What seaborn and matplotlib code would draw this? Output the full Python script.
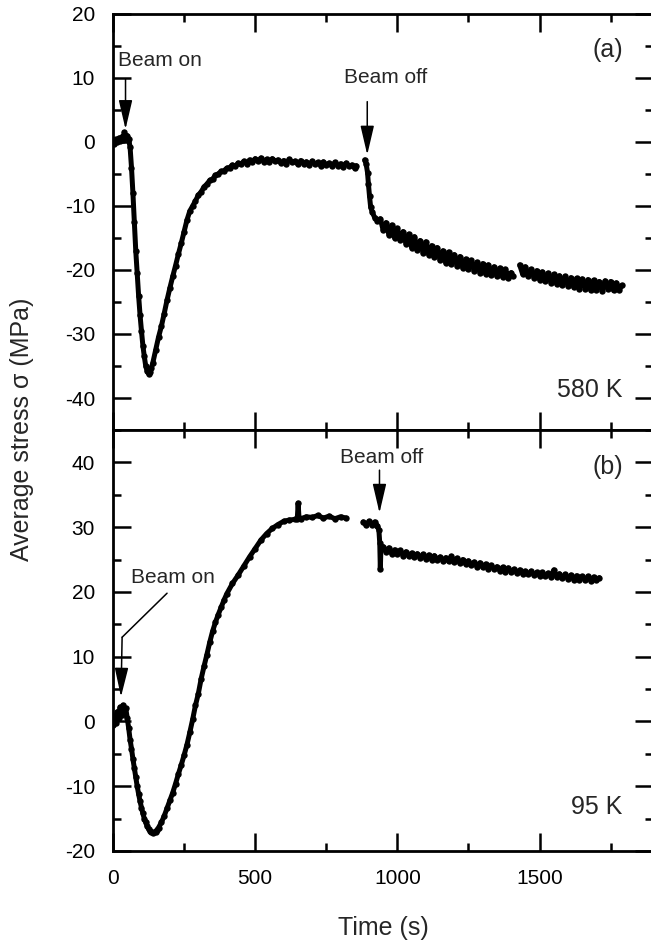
import numpy as np
import pandas as pd
import matplotlib
matplotlib.use("Agg")
import matplotlib.pyplot as plt
import seaborn as sns
from matplotlib.ticker import MultipleLocator

# ---------------- data ----------------
# Panel (a): 580 K
t_a = [
    0, 5, 10, 15, 20, 25, 30, 35, 40, 45, 50, 55, 60,
    65, 70, 75, 80, 85, 90, 95, 100, 105, 110, 115, 120, 125, 130, 135, 140,
    150, 160, 170, 180, 190, 200, 210, 220, 230, 240, 250, 260, 270, 280, 290, 300,
    310, 320, 330, 340, 350, 360, 370, 380, 390, 400,
    410, 420, 430, 440, 450, 460, 470, 480, 490, 500,
    510, 520, 530, 540, 550, 560, 570, 580, 590, 600,
    610, 620, 630, 640, 650, 660, 670, 680, 690, 700,
    710, 720, 730, 740, 750, 760, 770, 780, 790, 800,
    810, 820, 830, 840, 850, 855,
    870,
    885, 890, 895, 898, 902, 906, 912, 920, 930,
    940, 950, 960, 970, 980, 990, 1000, 1010, 1020, 1030,
    1040, 1050, 1060, 1070, 1080, 1090, 1100, 1110, 1120, 1130,
    1140, 1150, 1160, 1170, 1180, 1190, 1200, 1210, 1220, 1230,
    1240, 1250, 1260, 1270, 1280, 1290, 1300, 1310, 1320, 1330,
    1340, 1350, 1360, 1370, 1380, 1390, 1400, 1405,
    1418,
    1430, 1440, 1450, 1460, 1470, 1480, 1490, 1500, 1510, 1520,
    1530, 1540, 1550, 1560, 1570, 1580, 1590, 1600, 1610, 1620,
    1630, 1640, 1650, 1660, 1670, 1680, 1690, 1700, 1710, 1720,
    1730, 1740, 1750, 1760, 1770, 1780, 1790,
]
s_a = [
    0.3, -0.3, 0.4, 0.0, 0.6, 0.1, 0.8, 0.3, 1.5, 0.6, 1.0, 0.4, -0.8,
    -4.0, -8.0, -12.5, -17.0, -20.5, -24.0, -27.0, -29.5, -31.8, -33.5, -35.0, -35.8, -36.2, -36.0, -35.3, -34.5,
    -32.5, -30.5, -28.8, -26.8, -24.7, -22.8, -21.0, -19.3, -17.5, -15.8, -14.0, -12.2, -10.8, -10.0, -9.2, -8.3,
    -7.8, -7.0, -6.6, -6.0, -5.8, -5.2, -5.0, -4.6, -4.5, -4.1,
    -4.0, -3.6, -3.8, -3.3, -3.5, -3.0, -3.4, -2.8, -3.2, -2.6,
    -3.0, -2.5, -3.1, -2.7, -3.2, -2.6, -3.0, -2.8, -3.3, -2.9,
    -3.4, -2.7, -3.2, -3.0, -3.5, -2.9, -3.4, -3.1, -3.6, -3.0,
    -3.5, -3.2, -3.7, -3.1, -3.6, -3.3, -3.8, -3.2, -3.7, -3.4,
    -3.9, -3.3, -3.8, -3.6, -4.1, -3.7,
    np.nan,
    -2.8, -3.4, -4.8, -6.5, -8.5, -10.2, -11.0, -11.8, -12.3,
    -12.0, -13.8, -12.6, -14.5, -13.0, -15.0, -13.5, -15.3, -14.0, -15.9,
    -14.4, -16.5, -14.8, -16.8, -15.4, -17.3, -15.6, -17.6, -16.2, -18.0,
    -16.5, -18.5, -17.0, -18.9, -17.2, -19.1, -17.6, -19.4, -17.9, -19.7,
    -18.3, -19.9, -18.5, -20.2, -18.8, -20.4, -19.0, -20.6, -19.2, -20.8,
    -19.5, -21.0, -19.7, -21.1, -19.9, -21.2, -20.4, -21.0,
    np.nan,
    -19.2, -20.6, -19.5, -21.0, -19.9, -21.2, -20.1, -21.5, -20.3, -21.7,
    -20.5, -22.0, -20.7, -22.2, -20.9, -22.3, -21.0, -22.5, -21.2, -22.7,
    -21.3, -23.0, -21.4, -22.9, -21.5, -23.2, -21.6, -23.1, -21.8, -23.3,
    -21.7, -23.0, -21.8, -23.2, -22.0, -23.1, -22.4,
]

# Panel (b): 95 K
t_b = [
    0, 5, 10, 15, 20, 25, 30, 35, 40, 45,
    50, 55, 60, 65, 70, 75, 80, 85, 90, 95, 100, 105, 110, 115, 120, 125, 130,
    135, 140, 145, 150, 155, 160,
    170, 180, 190, 200, 210, 220, 230, 240, 250, 260, 270, 280,
    290, 300, 310, 320, 330, 340, 350, 360, 370, 380, 390, 400,
    420, 440, 460, 480, 500, 520, 540, 560, 580, 600, 620, 640,
    648, 651, 654,
    660, 680, 700, 720, 740, 760, 780, 800, 820,
    850,
    880, 890, 900, 910, 920, 930, 935, 938, 940, 942,
    950, 960, 970, 980, 990, 1000, 1010, 1020, 1030, 1040,
    1050, 1060, 1070, 1080, 1090, 1100, 1110, 1120, 1130, 1140,
    1150, 1160, 1170, 1180, 1190, 1200, 1210, 1220, 1230, 1240,
    1250, 1260, 1270, 1280, 1290, 1300, 1310, 1320, 1330, 1340,
    1350, 1360, 1370, 1380, 1390, 1400, 1410, 1420, 1430, 1440,
    1450, 1460, 1470, 1480, 1490, 1500, 1510, 1520, 1530, 1540,
    1550, 1560, 1570, 1580, 1590, 1600, 1610, 1620, 1630, 1640,
    1650, 1660, 1670, 1680, 1690, 1700, 1710,
]
s_b = [
    -0.5, 0.8, -0.2, 1.5, 0.5, 2.2, 1.0, 2.5, 1.5, 2.0,
    0.5, -1.0, -2.8, -4.2, -5.8, -7.2, -8.6, -10.0, -11.2, -12.3, -13.3, -14.2, -15.0, -15.6, -16.2, -16.6, -16.9,
    -17.1, -17.2, -17.1, -17.0, -16.7, -16.4,
    -15.6, -14.6, -13.4, -12.2, -11.0, -9.6, -8.1, -6.7, -5.2, -3.6, -1.7, 0.3,
    2.5, 4.3, 6.6, 8.5, 10.3, 12.2, 13.9, 15.3, 16.5, 17.6, 18.7, 19.7,
    21.3, 22.6, 24.0, 25.4, 26.7, 28.0, 29.0, 29.8, 30.4, 30.9, 31.1, 31.2,
    31.3, 33.7, 31.4,
    31.3, 31.6, 31.5, 31.8, 31.4, 31.7, 31.3, 31.6, 31.4,
    np.nan,
    30.8, 30.3, 30.9, 30.4, 30.8, 30.2, 29.5, 27.5, 23.5, 26.8,
    27.0, 26.2, 26.8, 25.9, 26.5, 25.8, 26.4, 25.6, 26.2, 25.5,
    26.0, 25.4, 25.9, 25.2, 25.8, 25.1, 25.7, 25.0, 25.6, 24.9,
    25.4, 24.8, 25.3, 24.7, 25.5, 24.6, 25.2, 24.4, 25.0, 24.3,
    24.8, 24.1, 24.6, 23.9, 24.5, 23.8, 24.3, 23.6, 24.1, 23.5,
    23.9, 23.3, 23.8, 23.1, 23.7, 23.0, 23.5, 22.9, 23.4, 22.8,
    23.2, 22.7, 23.2, 22.6, 23.0, 22.5, 23.0, 22.4, 22.9, 22.3,
    23.4, 22.3, 22.8, 22.1, 22.7, 22.0, 22.6, 21.9, 22.5, 21.9,
    22.4, 21.8, 22.4, 21.7, 22.3, 21.8, 22.2,
]

x_ticks = [0, 500, 1000, 1500]
ylim_a = (-45, 20)
ylim_b = (-20, 45)
panel_labels = ["(a)", "(b)"]
temp_labels = ["580 K", "95 K"]

assert len(t_a) == len(s_a) and len(t_b) == len(s_b)

# ---------------- style ----------------
sns.set_style("ticks")
plt.rcParams["font.family"] = ["Liberation Sans", "DejaVu Sans"]
plt.rcParams["axes.unicode_minus"] = False

fig = plt.figure(figsize=(6.51, 9.43), dpi=100)
ax_a = fig.add_axes([0.1736, 0.544, 0.830, 0.4412])
ax_b = fig.add_axes([0.1736, 0.0976, 0.830, 0.4464], sharex=ax_a)


def draw(ax, t, s):
    df = pd.DataFrame({"t": t, "s": s})
    df["seg"] = df["s"].isna().cumsum()
    df = df.dropna()
    sns.lineplot(data=df, x="t", y="s", units="seg", estimator=None, sort=False,
                 color="black", lw=3.6, marker="o", markersize=4.6,
                 markeredgewidth=0, ax=ax, legend=False)


draw(ax_a, t_a, s_a)
draw(ax_b, t_b, s_b)

for ax, yl in ((ax_a, ylim_a), (ax_b, ylim_b)):
    ax.set_xlim(0, 1900)
    ax.set_ylim(*yl)
    ax.set_xlabel("")
    ax.set_ylabel("")
    ax.xaxis.set_major_locator(MultipleLocator(500))
    ax.xaxis.set_minor_locator(MultipleLocator(250))
    ax.yaxis.set_major_locator(MultipleLocator(10))
    ax.yaxis.set_minor_locator(MultipleLocator(5))
    for sp in ax.spines.values():
        sp.set_visible(True)
        sp.set_linewidth(2.0)
        sp.set_color("black")
    ax.tick_params(which="both", direction="in", top=True, right=True,
                   width=1.8, colors="black", labelsize=15, pad=13)
    ax.tick_params(which="major", length=13)
    ax.tick_params(which="minor", length=6)

ax_a.tick_params(labelbottom=False)
ax_b.set_xticks(x_ticks)
ax_b.set_xlabel("Time (s)", fontsize=18, labelpad=20)
fig.text(0.034, 0.545, "Average stress σ (MPa)", rotation=90,
         ha="center", va="center", fontsize=18)

# ---------------- annotations ----------------
arrow = dict(arrowstyle="-|>,head_length=1.8,head_width=0.42",
             color="black", lw=1.1, shrinkA=0, shrinkB=0, mutation_scale=10)

ax_a.text(18, 12.8, "Beam on", ha="left", va="center", fontsize=15)
ax_a.annotate("", xy=(44, 2.0), xytext=(44, 9.8), arrowprops=arrow)
ax_a.text(958, 10.0, "Beam off", ha="center", va="center", fontsize=15)
ax_a.annotate("", xy=(894, -2.0), xytext=(894, 6.3), arrowprops=arrow)

ax_b.text(210, 22.2, "Beam on", ha="center", va="center", fontsize=15)
ax_b.annotate("", xy=(32, 13.0), xytext=(190, 19.8),
              arrowprops=dict(arrowstyle="-", color="black", lw=1.1,
                              shrinkA=0, shrinkB=0))
ax_b.annotate("", xy=(28, 3.8), xytext=(32, 13.0), arrowprops=arrow)
ax_b.text(944, 40.7, "Beam off", ha="center", va="center", fontsize=15)
ax_b.annotate("", xy=(937, 32.2), xytext=(937, 38.8), arrowprops=arrow)

ax_a.text(1792, 14.4, panel_labels[0], ha="right", va="center", fontsize=18)
ax_a.text(1792, -38.8, temp_labels[0], ha="right", va="center", fontsize=18)
ax_b.text(1792, 39.3, panel_labels[1], ha="right", va="center", fontsize=18)
ax_b.text(1792, -13.2, temp_labels[1], ha="right", va="center", fontsize=18)

fig.savefig("out.png", dpi=100, facecolor="white")
